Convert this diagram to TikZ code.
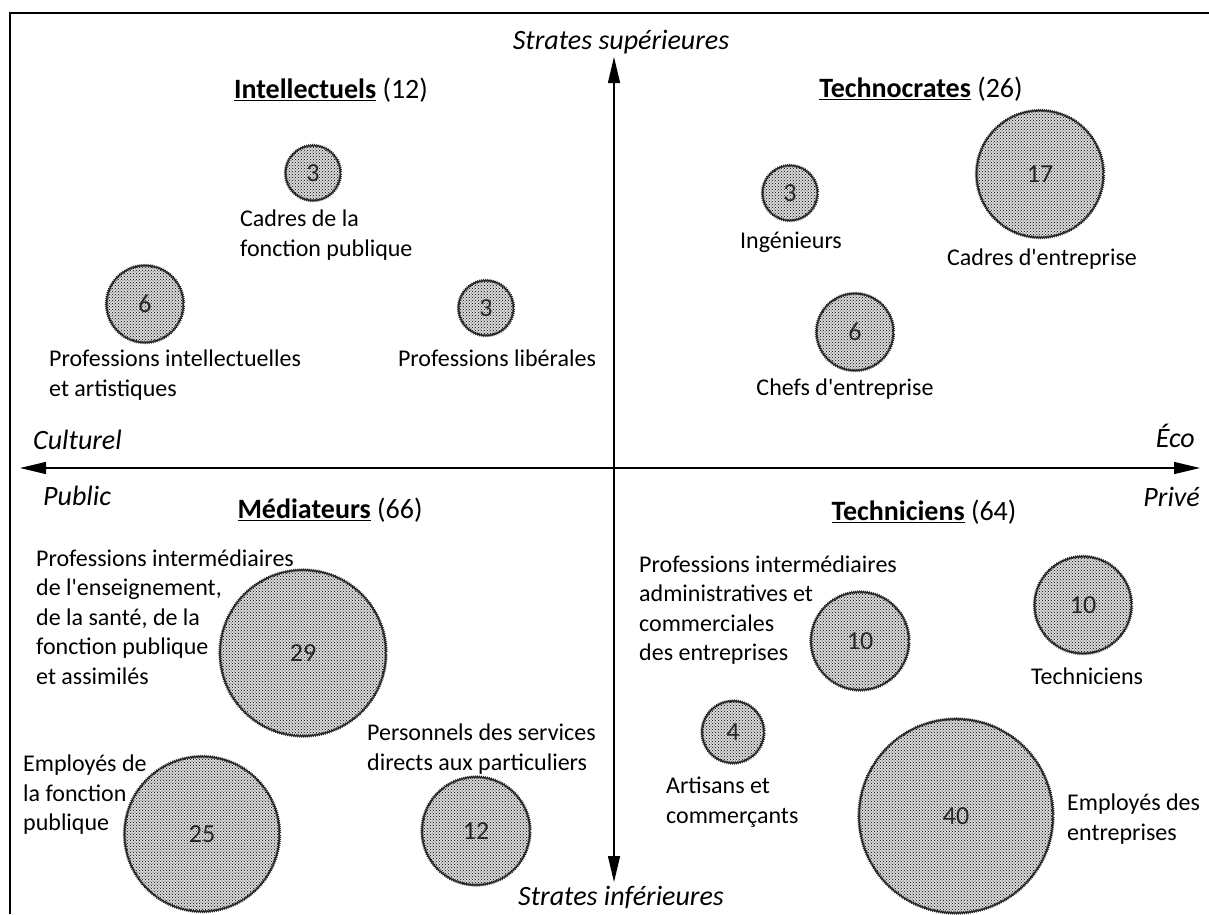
\documentclass[tikz,border=0pt]{standalone}
\usepackage{fontspec}
\setmainfont{Carlito}[Ligatures=TeXOff]
\usetikzlibrary{patterns,decorations.pathmorphing,arrows.meta}
\begin{document}
\begin{tikzpicture}[x=1pt,y=-1pt,
  every node/.style={inner sep=0pt, font=\fontsize{24}{29.5}\selectfont},
  bubble/.style={circle, draw=black!85, line width=1.1pt,
    preaction={fill=gray!30}, pattern=crosshatch dots, pattern color=black,
    decorate, decoration={zigzag, segment length=2pt, amplitude=0.8pt},
    font=\fontsize{26}{30}\selectfont, text=black!85},
  lab/.style={align=left},
  ttl/.style={font=\fontsize{28}{32}\selectfont},
  axlab/.style={font=\fontsize{28}{32}\selectfont\itshape},
  axisline/.style={line width=1.3pt, {Triangle[length=26pt,width=12pt]}-{Triangle[length=26pt,width=12pt]}},
  framel/.style={line width=2.6pt}
]
\useasboundingbox (0,0) rectangle (1209,914);
% frame
\coordinate (fbl) at (10,914);
\coordinate (ftl) at (10,13);
\coordinate (ftr) at (1209,13);
\draw[framel] (fbl) -- (ftl) -- (ftr);
% axes
\coordinate (vt) at (614,57);
\coordinate (vb) at (614,882);
\coordinate (hl) at (20,468);
\coordinate (hr) at (1200,468);
\draw[axisline] (vb) -- (vt);
\draw[axisline] (hl) -- (hr);
% axis labels
\node[axlab] (sup) at (621,42) {Strates supérieures};
\node[axlab] (inf) at (621,897) {Strates inférieures};
\node[axlab, anchor=west] (cult) at (33,440) {Culturel};
\node[axlab, anchor=east] (eco) at (1195,436) {Éco};
\node[axlab, anchor=west] (pub) at (43,496) {Public};
\node[axlab, anchor=east] (priv) at (1200,497) {Privé};
% titles
\node[ttl] (t1) at (331,90) {\underline{\textbf{Intellectuels}} (12)};
\node[ttl] (t2) at (921,89) {\underline{\textbf{Technocrates}} (26)};
\node[ttl] (t3) at (330,510) {\underline{\textbf{Médiateurs}} (66)};
\node[ttl] (t4) at (924,512) {\underline{\textbf{Techniciens}} (64)};
% bubbles
\node[bubble, minimum size=55pt] (cfp) at (313,173) {3};
\node[bubble, minimum size=77pt] (pint) at (145,304) {6};
\node[bubble, minimum size=55pt] (plib) at (486,308) {3};
\node[bubble, minimum size=55pt] (ing) at (790,193) {3};
\node[bubble, minimum size=127pt] (cde) at (1040,174) {17};
\node[bubble, minimum size=77pt] (chef) at (855,332) {6};
\node[bubble, minimum size=166pt] (pie) at (303,653) {29};
\node[bubble, minimum size=155pt] (efp) at (202,834) {25};
\node[bubble, minimum size=108pt] (psd) at (476,831) {12};
\node[bubble, minimum size=98pt] (pia) at (860,641) {10};
\node[bubble, minimum size=97pt] (tec) at (1083,605) {10};
\node[bubble, minimum size=62pt] (art) at (733,732) {4};
\node[bubble, minimum size=194pt] (ent) at (956,816) {40};
% labels
\node[lab, anchor=west] (lcfp) at (240,235) {Cadres de la\\fonction publique};
\node[lab, anchor=west] (lpint) at (49,375) {Professions intellectuelles\\et artistiques};
\node (lplib) at (497,358) {Professions libérales};
\node (ling) at (791,242) {Ingénieurs};
\node (lcde) at (1042,259) {Cadres d'entreprise};
\node (lchef) at (845,389) {Chefs d'entreprise};
\node[lab, anchor=west] (lpie) at (36,617) {Professions intermédiaires\\de l'enseignement,\\de la santé, de la\\fonction publique\\et assimilés};
\node[lab, anchor=west] (lefp) at (23,795) {Employés de\\la fonction\\publique};
\node[lab, anchor=west] (lpsd) at (367,749) {Personnels des services\\directs aux particuliers};
\node[lab, anchor=west] (lpia) at (639,610) {Professions intermédiaires\\administratives et\\commerciales\\des entreprises};
\node (ltec) at (1087,676) {Techniciens};
\node[lab, anchor=west] (lart) at (666,802) {Artisans et\\commerçants};
\node[lab, anchor=west] (lent) at (1067,819) {Employés des\\entreprises};
\end{tikzpicture}
\end{document}
